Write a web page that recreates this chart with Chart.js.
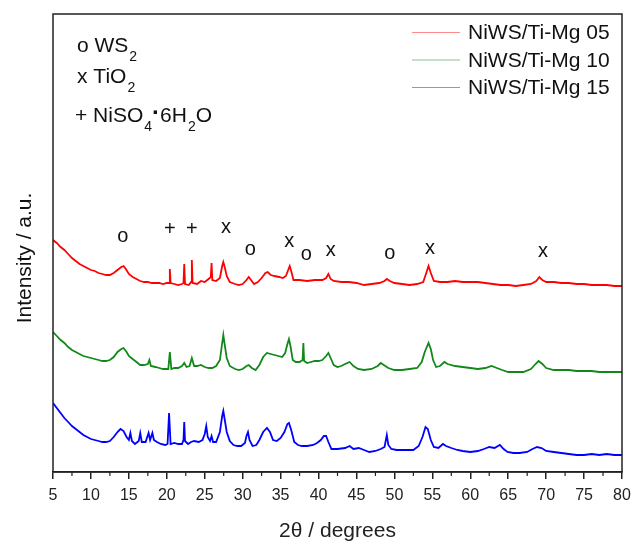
<!DOCTYPE html>
<html>
<head>
<meta charset="utf-8">
<script src="https://cdn.jsdelivr.net/npm/chart.js@4.4.1/dist/chart.umd.min.js"></script>
<style>
  html, body { margin: 0; padding: 0; background: #fff; }
  #wrap { width: 631px; height: 543px; }
</style>
</head>
<body>
<div id="wrap"><canvas id="xrdChart" width="631" height="543"></canvas></div>
<script>
// 2 theta (degrees) and intensity (a.u., curves stacked as in the figure)
const angles05 = [5, 5.5, 6, 6.5, 7, 7.5, 8, 8.5, 9, 9.5, 10, 10.5, 11, 11.5, 12, 12.5, 13, 13.5, 14, 14.3, 14.6, 15, 15.5, 16, 16.5, 17, 17.5, 18, 18.5, 19, 19.5, 20, 20.3, 20.4, 20.5, 21, 21.5, 22, 22.2, 22.3, 22.4, 22.9, 23.2, 23.3, 23.4, 24, 24.5, 25, 25.5, 25.8, 25.9, 26, 26.5, 27, 27.3, 27.45, 27.6, 27.9, 28.3, 29, 29.5, 30, 30.5, 30.8, 31.1, 31.5, 32, 32.5, 33, 33.3, 33.7, 34.2, 34.8, 35.3, 35.7, 36, 36.2, 36.4, 36.7, 37.5, 38.5, 39.5, 40.5, 41, 41.3, 41.6, 42, 43, 44, 45, 46, 47, 48, 48.7, 49, 49.4, 50, 51, 52, 53, 53.8, 54.2, 54.5, 54.8, 55.2, 56, 57, 58, 59, 60, 61, 62, 63, 64, 65, 66, 67, 68, 68.7, 69.1, 69.5, 70, 71, 72, 73, 74, 75, 76, 77, 78, 79, 80];
const counts05 = [232, 229, 225, 222, 218, 214, 211, 208, 206, 204, 202, 201, 199, 198, 197, 197, 199, 202, 205, 206, 203, 198, 195, 193, 191, 190, 190, 189, 189, 189, 188, 189, 189, 203, 189, 188, 187, 188, 189, 208, 188, 187, 190, 212, 189, 188, 191, 190, 193, 195, 209, 192, 191, 194, 206, 210, 206, 196, 190, 188, 187, 188, 192, 195, 192, 188, 190, 194, 199, 200, 197, 196, 195, 194, 196, 202, 206, 201, 192, 192, 191, 192, 192, 194, 198, 193, 191, 190, 190, 189, 187, 188, 189, 191, 193, 191, 189, 188, 187, 188, 190, 199, 206, 199, 191, 190, 190, 191, 190, 190, 190, 189, 188, 187, 187, 186, 187, 188, 191, 195, 192, 190, 190, 189, 189, 188, 188, 187, 187, 187, 186, 186];

const angles10 = [5, 5.5, 6, 6.5, 7, 7.5, 8, 8.5, 9, 9.5, 10, 10.5, 11, 11.5, 12, 12.5, 13, 13.5, 14, 14.3, 14.7, 15, 15.5, 16, 16.5, 17, 17.5, 17.7, 17.9, 18.5, 19, 19.5, 20.2, 20.4, 20.6, 21, 21.5, 22, 22.3, 22.6, 23, 23.3, 23.6, 24, 24.5, 25, 25.5, 26, 26.5, 27, 27.3, 27.45, 27.6, 27.9, 28.3, 29, 29.5, 30, 30.5, 30.8, 31.2, 31.7, 32.2, 32.7, 33.2, 33.7, 34.2, 34.7, 35.2, 35.6, 35.9, 36.1, 36.3, 36.6, 37, 37.5, 37.9, 38, 38.1, 38.5, 39, 39.5, 40, 40.5, 41, 41.3, 41.6, 42, 42.5, 43, 43.5, 44.1, 44.6, 45.2, 46, 47, 47.8, 48.2, 48.6, 49.2, 50, 51, 52, 53, 53.6, 54, 54.5, 54.8, 55.1, 55.5, 56, 56.6, 57, 58, 59, 60, 61, 62, 62.8, 63.5, 64.2, 65, 66, 67, 68, 68.6, 69, 69.5, 70, 71, 72, 73, 74, 75, 76, 77, 78, 79, 80];
const counts10 = [140, 136, 132, 129, 125, 122, 120, 118, 116, 115, 114, 113, 112, 111, 111, 112, 115, 120, 123, 124, 120, 116, 113, 110, 107, 107, 108, 112, 106, 105, 104, 103, 103, 120, 103, 104, 104, 106, 109, 105, 106, 114, 106, 106, 107, 105, 104, 104, 106, 112, 129, 137, 129, 114, 106, 103, 102, 103, 106, 107, 104, 102, 107, 115, 119, 118, 117, 116, 115, 119, 128, 133, 126, 112, 110, 110, 112, 129, 111, 109, 110, 111, 111, 112, 116, 119, 114, 107, 105, 106, 108, 110, 106, 103, 102, 103, 106, 109, 107, 104, 102, 102, 103, 104, 110, 120, 129, 123, 112, 105, 106, 110, 108, 106, 105, 104, 103, 104, 106, 104, 102, 100, 100, 100, 103, 108, 111, 108, 104, 102, 102, 102, 101, 101, 101, 100, 100, 100, 100];

const angles15 = [5, 5.5, 6, 6.5, 7, 7.5, 8, 8.5, 9, 9.5, 10, 10.5, 11, 11.5, 12, 12.5, 13, 13.5, 13.9, 14.3, 14.7, 15, 15.2, 15.4, 15.8, 16.3, 16.5, 16.7, 17.2, 17.6, 17.8, 18.1, 18.3, 18.7, 19.2, 19.8, 20.1, 20.3, 20.5, 21, 21.5, 22, 22.2, 22.3, 22.4, 22.8, 23.2, 23.6, 24.2, 24.7, 25, 25.2, 25.4, 25.7, 25.9, 26.1, 26.5, 27, 27.3, 27.45, 27.6, 27.9, 28.3, 28.8, 29.3, 29.8, 30.3, 30.5, 30.7, 30.9, 31.3, 31.8, 32.2, 32.7, 33.2, 33.6, 34, 34.5, 35, 35.5, 35.9, 36.1, 36.4, 36.8, 37.3, 37.8, 38.5, 39.3, 39.8, 40.3, 40.7, 41, 41.3, 41.7, 42.5, 43.5, 44.1, 44.6, 45.3, 46, 46.7, 47.5, 48.2, 48.7, 49, 49.2, 49.6, 50.3, 51, 51.8, 52.5, 53.2, 53.7, 54.1, 54.4, 54.8, 55.2, 55.8, 56.4, 56.8, 57.5, 58.3, 59, 60, 61, 61.8, 62.5, 63.2, 63.9, 64.4, 64.9, 65.7, 66.5, 67.5, 68.2, 68.8, 69.4, 70, 71, 72, 73, 74, 75, 76, 77, 78, 79, 80];
const counts15 = [69, 64, 59, 54, 50, 46, 43, 40, 37, 35, 33, 32, 31, 30, 30, 31, 35, 40, 43, 41, 35, 32, 39, 31, 28, 31, 39, 30, 30, 39, 32, 39, 32, 30, 28, 27, 28, 59, 28, 29, 28, 28, 32, 50, 31, 28, 30, 31, 30, 32, 38, 46, 35, 31, 36, 30, 30, 40, 56, 61, 54, 40, 31, 27, 26, 26, 29, 36, 40, 32, 26, 27, 32, 40, 44, 40, 32, 31, 34, 40, 48, 49, 42, 30, 27, 26, 26, 27, 29, 32, 36, 36, 30, 23, 23, 24, 26, 23, 24, 22, 20, 21, 23, 25, 37, 27, 23, 22, 22, 22, 22, 26, 35, 45, 43, 32, 25, 24, 28, 26, 24, 22, 21, 20, 21, 23, 25, 24, 27, 23, 20, 19, 19, 20, 23, 25, 24, 21, 20, 19, 18, 17, 17, 18, 17, 18, 17, 17];

const seriesLabels = ['NiWS/Ti-Mg 05', 'NiWS/Ti-Mg 10', 'NiWS/Ti-Mg 15'];
const seriesColors = ['#ff0000', '#13881a', '#0000ff'];
const legendColors = ['#ff8c8c', '#8cc48c', '#8c8cff'];
const xTicks = [5, 10, 15, 20, 25, 30, 35, 40, 45, 50, 55, 60, 65, 70, 75, 80];

// phase marks above the 05 pattern
const markSymbols = ['o', '+', '+', 'x', 'o', 'x', 'o', 'x', 'o', 'x', 'x'];
const markAngles = [14.2, 20.4, 23.3, 27.8, 31.0, 36.15, 38.4, 41.6, 49.4, 54.7, 69.6];
const markHeights = [234, 241, 241, 243, 221, 229, 216, 220, 217, 222, 219];

const FONT = '"Liberation Sans", Arial, sans-serif';

function pairs(xs, ys) {
    return xs.map((x, i) => ({ x: x, y: ys[i] }));
}

const framePlugin = {
    id: 'frame',
    afterDraw(chart) {
        const ctx = chart.ctx;
        const a = chart.chartArea;
        const xs = chart.scales.x;
        ctx.save();
        ctx.strokeStyle = '#222';
        ctx.lineWidth = 1.5;
        ctx.strokeRect(a.left, a.top, a.right - a.left, a.bottom - a.top);
        // minor ticks
        ctx.lineWidth = 1.2;
        for (let v = 7.5; v < 80; v += 5) {
            const px = xs.getPixelForValue(v);
            ctx.beginPath();
            ctx.moveTo(px, a.bottom);
            ctx.lineTo(px, a.bottom + 4);
            ctx.stroke();
        }
        ctx.restore();
    }
};

const notesPlugin = {
    id: 'notes',
    afterDatasetsDraw(chart) {
        const ctx = chart.ctx;
        const a = chart.chartArea;
        const xs = chart.scales.x, ys = chart.scales.y;
        ctx.save();
        ctx.fillStyle = '#111';

        // peak symbols
        ctx.font = '20px ' + FONT;
        ctx.textAlign = 'center';
        ctx.textBaseline = 'middle';
        markSymbols.forEach((s, i) => {
            ctx.fillText(s, xs.getPixelForValue(markAngles[i]), ys.getPixelForValue(markHeights[i]) - 2);
        });

        // phase key, top left
        const key = [
            [['o WS', 0], ['2', 1]],
            [['x TiO', 0], ['2', 1]],
            [['+ NiSO', 0], ['4', 1], ['\u00b7', 2], ['6H', 0], ['2', 1], ['O', 0]]
        ];
        const baselines = [52, 83, 122];
        ctx.textAlign = 'left';
        ctx.textBaseline = 'alphabetic';
        key.forEach((line, r) => {
            let x = a.left + (r === 2 ? 22 : 24);
            const y = baselines[r];
            line.forEach(([t, kind]) => {
                if (kind === 1) {
                    ctx.font = '14px ' + FONT;
                    ctx.fillText(t, x + 1, y + 9);
                    x += ctx.measureText(t).width + 1;
                } else if (kind === 2) {
                    ctx.font = 'bold 24px ' + FONT;
                    ctx.fillText(t, x, y - 2);
                    x += ctx.measureText(t).width;
                } else {
                    ctx.font = '21px ' + FONT;
                    ctx.fillText(t, x, y);
                    x += ctx.measureText(t).width;
                }
            });
        });

        // legend, top right
        ctx.font = '21px ' + FONT;
        ctx.textBaseline = 'middle';
        chart.data.datasets.forEach((ds, i) => {
            const y = 32.5 + i * 27.5;
            ctx.strokeStyle = legendColors[i];
            ctx.lineWidth = 1.2;
            ctx.beginPath();
            ctx.moveTo(412, y);
            ctx.lineTo(460, y);
            ctx.stroke();
            ctx.fillStyle = '#111';
            ctx.fillText(ds.label, 468, y + 1);
        });

        // y axis title
        ctx.translate(25, 258);
        ctx.rotate(-Math.PI / 2);
        ctx.textAlign = 'center';
        ctx.font = '21px ' + FONT;
        ctx.fillText('Intensity / a.u.', 0, 0);
        ctx.restore();
    }
};

new Chart(document.getElementById('xrdChart'), {
    type: 'line',
    data: {
        datasets: [
            { label: seriesLabels[0], data: pairs(angles05, counts05), borderColor: seriesColors[0] },
            { label: seriesLabels[1], data: pairs(angles10, counts10), borderColor: seriesColors[1] },
            { label: seriesLabels[2], data: pairs(angles15, counts15), borderColor: seriesColors[2] }
        ]
    },
    options: {
        responsive: false,
        animation: false,
        layout: { padding: { left: 53, top: 14, right: 9, bottom: 0 } },
        elements: {
            line: { borderWidth: 1.8, tension: 0 },
            point: { radius: 0 }
        },
        plugins: {
            legend: { display: false },
            tooltip: { enabled: false }
        },
        scales: {
            x: {
                type: 'linear',
                min: 5,
                max: 80,
                afterBuildTicks(scale) {
                    scale.ticks = xTicks.map(v => ({ value: v }));
                },
                afterFit(scale) {
                    scale.height = 71;
                    scale.paddingLeft = 0;
                    scale.paddingRight = 0;
                },
                grid: {
                    drawOnChartArea: false,
                    drawTicks: true,
                    tickLength: 7,
                    color: '#222',
                    lineWidth: 1.5
                },
                border: { display: true, color: '#222', width: 1.5 },
                ticks: {
                    color: '#222',
                    padding: 7,
                    maxRotation: 0,
                    autoSkip: false,
                    font: { family: FONT, size: 16 }
                },
                title: {
                    display: true,
                    text: '2\u03b8 / degrees',
                    color: '#222',
                    padding: { top: 0, bottom: 0 },
                    font: { family: FONT, size: 21, lineHeight: 1.1 }
                }
            },
            y: {
                display: false,
                min: 0,
                max: 458
            }
        }
    },
    plugins: [framePlugin, notesPlugin]
});
</script>
</body>
</html>
